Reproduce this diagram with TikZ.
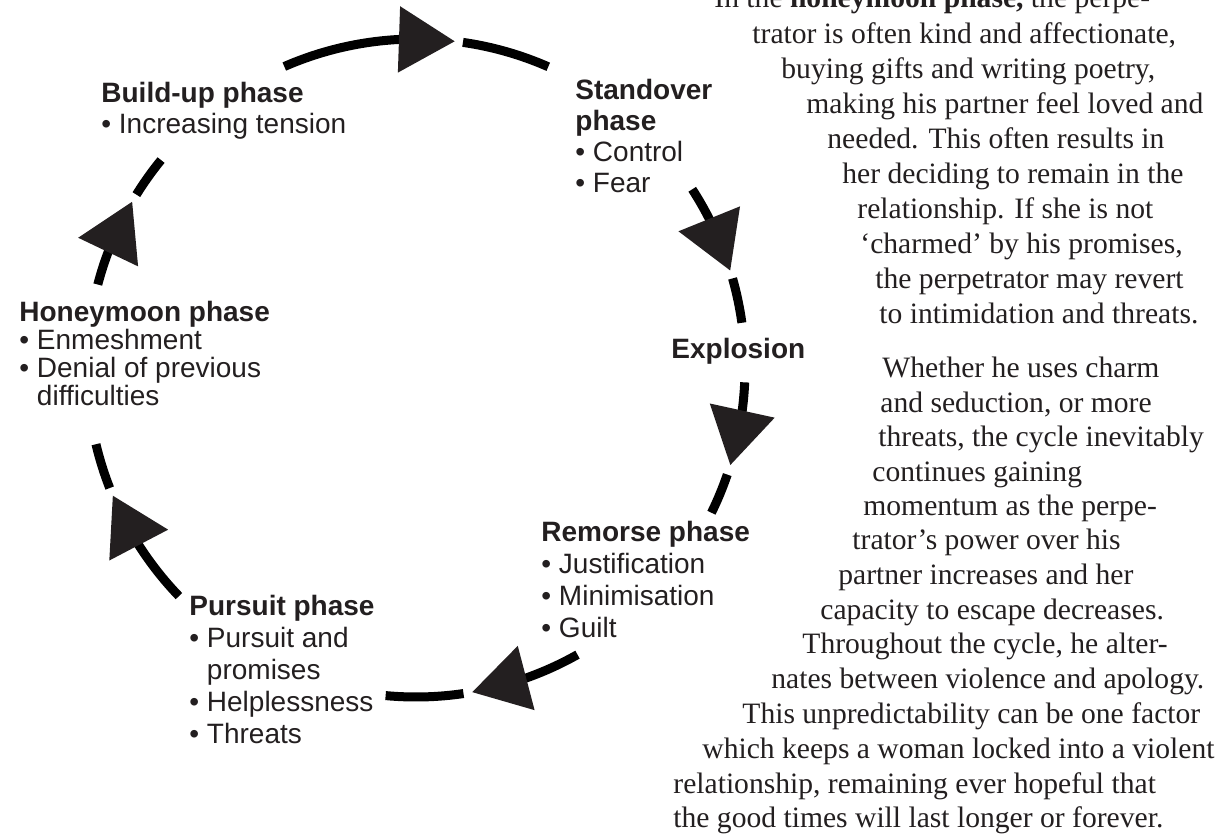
\documentclass[tikz,border=0pt]{standalone}
\usepackage{fontspec}
\setmainfont{Liberation Serif}
\setsansfont{Liberation Sans}
\usetikzlibrary{arrows.meta,bending}
\definecolor{inkblack}{RGB}{35,31,32}

\begin{document}
\begin{tikzpicture}[x=0.5pt,y=-0.5pt,
    phase/.style={align=left,anchor=base west,inner sep=0pt,text=inkblack,
      font=\sffamily\fontsize{14}{15.5}\selectfont},
    story/.style={anchor=base west,inner sep=0pt,text=inkblack,
      font=\fontsize{14.8}{17}\selectfont},
    loopseg/.style={line width=4.5pt,draw=black},
    loophead/.style={loopseg,-{Triangle[length=28pt,width=32pt,flex,color=inkblack]}}]

\useasboundingbox (0,0) rectangle (1218,835);
\clip (0,0) rectangle (1218,835);

% the phases round the cycle (placed by the baseline of their last line)
\node[phase] (buildup)   at (101,133) {\textbf{Build-up phase}\\\textbullet\ Increasing tension};
\node[phase] (standover) at (575,192) {\textbf{Standover}\\\textbf{phase}\\\textbullet\ Control\\\textbullet\ Fear};
\node[phase] (explosion) at (671,358) {\textbf{Explosion}};
\node[phase,font=\sffamily\fontsize{14}{16}\selectfont]
             (remorse)   at (541,637) {\textbf{Remorse phase}\\\textbullet\ Justification\\\textbullet\ Minimisation\\\textbullet\ Guilt};
\node[phase,font=\sffamily\fontsize{14}{15.9}\selectfont]
             (pursuit)   at (189,743) {\textbf{Pursuit phase}\\\textbullet\ Pursuit and\\\hphantom{\textbullet\ }promises\\\textbullet\ Helplessness\\\textbullet\ Threats};
\node[phase,font=\sffamily\fontsize{14}{14}\selectfont]
             (honeymoon) at (19,405)  {\textbf{Honeymoon phase}\\\textbullet\ Enmeshment\\\textbullet\ Denial of previous\\\hphantom{\textbullet\ }difficulties};

% the broken circle with its arrowheads
\coordinate (hub) at (416,368);
\foreach \a/\t/\b/\e in {-113.6/-83.2/-81.8/-66.3, -32.9/-17.2/-15.8/-7.9,
    2.5/17.2/18.9/26.1, 60.6/80.2/81.7/95.3,
    136.1/157.2/158.6/166.6, 194.7/210.4/211.8/219.2}{
  \draw[loophead] ([shift={(\a:329)}]hub) arc[start angle=\a,end angle=\t,radius=329];
  \draw[loopseg]  ([shift={(\b:329)}]hub) arc[start angle=\b,end angle=\e,radius=329];
}

% the text beside the cycle
\foreach \sx/\sy/\stext [count=\i] in {
    714/8/{In the \textbf{honeymoon phase,} the perpe-},
    752/43/{trator is often kind and affectionate,},
    781/78/{buying gifts and writing poetry,},
    806/113/{making his partner feel loved and},
    827/148/{needed. This often results in},
    842/183/{her deciding to remain in the},
    857/218/{relationship. If she is not},
    860/253/{`charmed' by his promises,},
    875/288/{the perpetrator may revert},
    879/323/{to intimidation and threats.},
    882/377/{Whether he uses charm},
    880/412/{and seduction, or more},
    878/446/{threats, the cycle inevitably},
    872/481/{continues gaining},
    863/515/{momentum as the perpe-},
    852/549/{trator's power over his},
    838/584/{partner increases and her},
    820/619/{capacity to escape decreases.},
    802/653/{Throughout the cycle, he alter-},
    771/688/{nates between violence and apology.},
    742/723/{This unpredictability can be one factor},
    702/758/{which keeps a woman locked into a violent},
    673/793/{relationship, remaining ever hopeful that},
    673/827/{the good times will last longer or forever.}}
  \node[story] (line\i) at (\sx,\sy) {\stext};

\end{tikzpicture}
\end{document}
